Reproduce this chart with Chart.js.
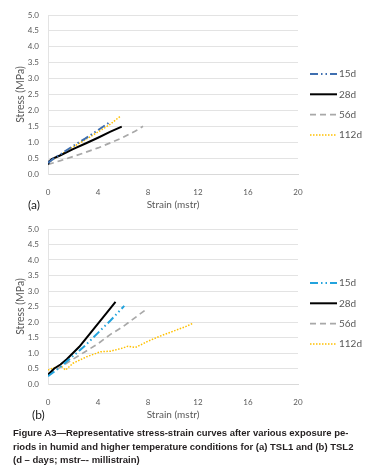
<!DOCTYPE html>
<html>
<head>
<meta charset="utf-8">
<script src="https://cdn.jsdelivr.net/npm/chart.js@4.4.1/dist/chart.umd.min.js"></script>
<style>
  html, body { margin: 0; padding: 0; background: #fff; }
  #page { position: relative; width: 376px; height: 475px; overflow: hidden; }
  .box { position: absolute; left: 0; width: 376px; }
  .tag { position: absolute; font-family: Lato, sans-serif; font-size: 12px; color: #222; }
  #caption {
    position: absolute; left: 13px; top: 426px; margin: 0;
    font-family: 'Liberation Sans', Arial, sans-serif; font-weight: bold;
    font-size: 9.5px; line-height: 13.5px; color: #231f20; white-space: pre;
  }
</style>
</head>
<body>
<div id="page">
  <div class="box" style="top:0;height:215px"><canvas id="cA"></canvas></div>
  <div class="box" style="top:215px;height:210px"><canvas id="cB"></canvas></div>
  <div class="tag" style="left:28px;top:197px">(a)</div>
  <div class="tag" style="left:32px;top:407px">(b)</div>
  <p id="caption">Figure A3—Representative stress-strain curves after various exposure pe-
riods in humid and higher temperature conditions for (a) TSL1 and (b) TSL2
(d – days; mstr–- millistrain)</p>
</div>
<script>
// ── Data (strain in mstr, stress in MPa) ────────────────────
const SERIES = ['15d', '28d', '56d', '112d'];
const X_TICKS = [0, 4, 8, 12, 16, 20];
const Y_TICKS = [0, 0.5, 1, 1.5, 2, 2.5, 3, 3.5, 4, 4.5, 5];

// (a) TSL1
const a15x  = [0, 0.5, 1, 2, 3, 4, 4.6, 5.0];
const a15y  = [0.35, 0.5, 0.62, 0.88, 1.12, 1.38, 1.54, 1.65];
const a28x  = [0, 0.1, 0.3, 1, 2, 3, 4, 5, 5.9];
const a28y  = [0.3, 0.4, 0.47, 0.59, 0.78, 0.96, 1.14, 1.33, 1.49];
const a56x  = [0, 1, 2, 3, 4, 5, 6, 7, 7.6];
const a56y  = [0.3, 0.42, 0.55, 0.68, 0.82, 0.98, 1.15, 1.35, 1.5];
const a112x = [0, 0.5, 1, 2, 3, 4, 5, 5.8];
const a112y = [0.35, 0.48, 0.6, 0.85, 1.08, 1.32, 1.57, 1.82];

// (b) TSL2
const b15x  = [0, 1, 2, 3, 4, 5, 6.1];
const b15y  = [0.25, 0.55, 0.9, 1.25, 1.65, 2.05, 2.52];
const b28x  = [0, 0.5, 1, 1.5, 2, 2.5, 3, 3.5, 4, 4.5, 5, 5.4];
const b28y  = [0.3, 0.5, 0.63, 0.8, 1.0, 1.2, 1.45, 1.7, 1.95, 2.2, 2.45, 2.65];
const b56x  = [0, 1, 2, 3, 4, 5, 6, 7, 7.9];
const b56y  = [0.3, 0.55, 0.8, 1.05, 1.3, 1.6, 1.85, 2.15, 2.42];
const b112x = [0, 1, 1.4, 2, 3.1, 4.2, 5, 5.9, 6.4, 7, 8, 9, 10, 11, 11.6];
const b112y = [0.45, 0.6, 0.45, 0.67, 0.88, 1.04, 1.06, 1.15, 1.22, 1.18, 1.38, 1.55, 1.7, 1.85, 1.96];

const pts = (xs, ys) => xs.map((x, i) => ({ x, y: ys[i] }));

// ── Styles ──────────────────────────────────────────────────
const FONT = 'Lato, sans-serif';
const GREY_TXT = '#595959';
const mkStyle = (blue) => [
  { borderColor: blue,      borderWidth: 2,   borderDash: [8, 3, 1.5, 3, 1.5, 3] },
  { borderColor: '#000000', borderWidth: 2,   borderDash: [] },
  { borderColor: '#a8a8a8', borderWidth: 1.7, borderDash: [6, 4] },
  { borderColor: '#ffc000', borderWidth: 1.5, borderDash: [1.5, 1.5] },
];

// legend drawn at the right side, same as the figure
const sideLegend = {
  id: 'sideLegend',
  afterDraw(chart, args, opts) {
    const ctx = chart.ctx;
    chart.data.datasets.forEach((ds, i) => {
      const y = opts.y0 + i * opts.gap;
      ctx.save();
      ctx.strokeStyle = ds.borderColor;
      ctx.lineWidth = ds.borderWidth;
      ctx.setLineDash(ds.borderDash || []);
      ctx.beginPath();
      ctx.moveTo(310, y);
      ctx.lineTo(337, y);
      ctx.stroke();
      ctx.restore();
      ctx.fillStyle = GREY_TXT;
      ctx.font = '10px ' + FONT;
      ctx.textBaseline = 'middle';
      ctx.fillText(ds.label, 339, y);
    });
  }
};

function mkChart(id, data, blue, padTop, legY) {
  const st = mkStyle(blue);
  return new Chart(document.getElementById(id), {
    type: 'line',
    data: {
      datasets: data.map((d, i) => ({
        label: SERIES[i], data: d, ...st[i],
        pointRadius: 0, fill: false, tension: 0,
      }))
    },
    options: {
      responsive: true, maintainAspectRatio: false, animation: false,
      layout: { padding: { left: 0, right: 78, top: padTop, bottom: 0 } },
      plugins: { legend: { display: false }, tooltip: { enabled: false }, sideLegend: { y0: legY, gap: 20.3 } },
      scales: {
        x: {
          type: 'linear', min: 0, max: 20,
          afterBuildTicks: s => { s.ticks = X_TICKS.map(v => ({ value: v })); },
          afterFit: s => { s.height = 41; },
          grid: { display: false },
          border: { display: true, color: '#d9d9d9', width: 1 },
          ticks: { color: GREY_TXT, font: { size: 8, family: FONT }, padding: 6 },
          title: { display: true, text: 'Strain (mstr)', color: GREY_TXT,
                   font: { size: 10, family: FONT }, padding: { top: 0, bottom: 4 } },
        },
        y: {
          min: 0, max: 5,
          afterBuildTicks: s => { s.ticks = Y_TICKS.map(v => ({ value: v })); },
          afterFit: s => { s.width = 48; },
          grid: { color: '#e3e3e3', drawTicks: false },
          border: { display: true, color: '#e3e3e3', width: 1 },
          ticks: { color: GREY_TXT, font: { size: 8, family: FONT }, padding: 9,
                   callback: v => v.toFixed(1) },
          title: { display: true, text: 'Stress (MPa)', color: GREY_TXT,
                   font: { size: 10.5, family: FONT }, padding: { top: 14, bottom: 0 } },
        },
      },
    },
    plugins: [sideLegend],
  });
}

mkChart('cA', [pts(a15x, a15y), pts(a28x, a28y), pts(a56x, a56y), pts(a112x, a112y)], '#3f6fb0', 15, 74);
mkChart('cB', [pts(b15x, b15y), pts(b28x, b28y), pts(b56x, b56y), pts(b112x, b112y)], '#23a3dd', 14, 68);
</script>
</body>
</html>
